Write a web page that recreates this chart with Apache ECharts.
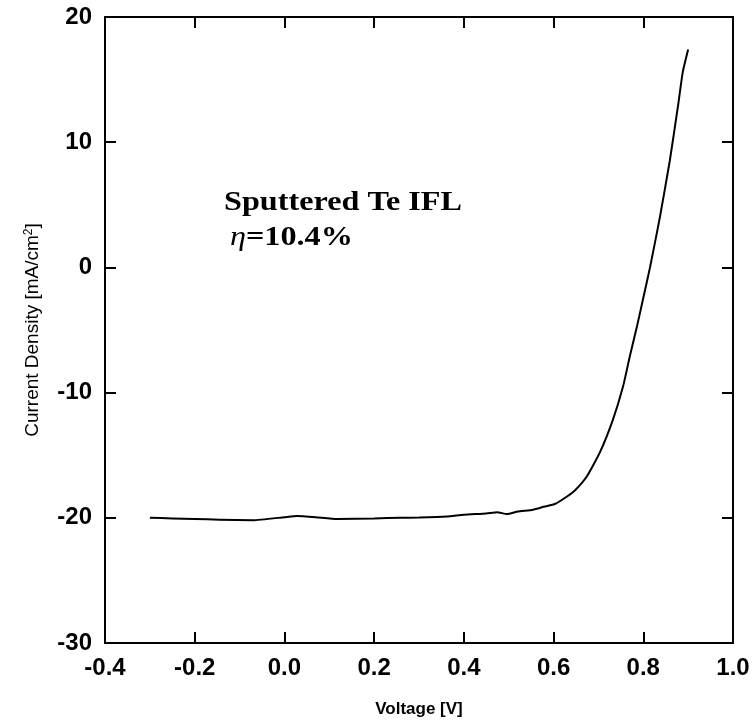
<!DOCTYPE html>
<html>
<head>
<meta charset="utf-8">
<script src="https://cdn.jsdelivr.net/npm/echarts@6/dist/echarts.min.js"></script>
<style>html,body{margin:0;padding:0;background:#fff;}#c{width:754px;height:728px;}</style>
</head>
<body>
<div id="c"></div>
<script>
var voltage = [-0.30, -0.25, -0.20, -0.144, -0.07, 0.0, 0.028, 0.07, 0.117, 0.2, 0.258, 0.30, 0.362, 0.40, 0.45, 0.474, 0.496, 0.52, 0.554, 0.58, 0.603, 0.63, 0.648, 0.674, 0.703, 0.732, 0.755, 0.770, 0.786, 0.799, 0.815, 0.837, 0.859, 0.877, 0.888, 0.900];
var current = [-20.0, -20.05, -20.1, -20.15, -20.2, -19.95, -19.85, -19.95, -20.1, -20.05, -20.0, -19.98, -19.9, -19.75, -19.65, -19.55, -19.7, -19.5, -19.35, -19.1, -18.9, -18.3, -17.8, -16.7, -14.8, -12.2, -9.5, -7.1, -4.7, -2.6, 0.0, 4.0, 8.5, 12.8, 15.6, 17.4];
var xTicks = ['-0.4', '-0.2', '0.0', '0.2', '0.4', '0.6', '0.8', '1.0'];
var yTicks = ['-30', '-20', '-10', '0', '10', '20'];
var annotationTitle = 'Sputtered Te IFL';
var annotationEff = '10.4%';

var data = voltage.map(function (v, i) { return [v, current[i]]; });
var chart = echarts.init(document.getElementById('c'), null, {renderer: 'canvas'});
var axisLine = {show: true, onZero: false, lineStyle: {color: '#000', width: 2}};
var tick = {show: true, inside: true, length: 11, lineStyle: {color: '#000', width: 2}};
var sans = 'Liberation Sans, Arial, sans-serif';
chart.setOption({
  animation: false,
  backgroundColor: '#fff',
  grid: {left: 105, right: 21, top: 17, bottom: 85},
  xAxis: [{
    type: 'value', min: -0.4, max: 1.0, interval: 0.2, position: 'bottom',
    axisLine: axisLine, axisTick: tick, splitLine: {show: false},
    axisLabel: {color: '#000', fontSize: 24, fontWeight: 'bold', fontFamily: sans, margin: 13,
      formatter: function (v) { var i = Math.round((v + 0.4) / 0.2); return xTicks[i]; }},
    name: 'Voltage [V]', nameLocation: 'middle', nameGap: 58,
    nameTextStyle: {color: '#000', fontSize: 17, fontWeight: 'bold', fontFamily: sans}
  }, {
    type: 'value', min: -0.4, max: 1.0, interval: 0.2, position: 'top',
    axisLine: axisLine, axisTick: tick, axisLabel: {show: false}, splitLine: {show: false}
  }],
  yAxis: [{
    type: 'value', min: -30, max: 20, interval: 10, position: 'left',
    axisLine: axisLine, axisTick: tick, splitLine: {show: false},
    axisLabel: {color: '#000', fontSize: 24, fontWeight: 'bold', fontFamily: sans, margin: 13,
      formatter: function (v) { var i = Math.round((v + 30) / 10); return yTicks[i]; }},
    name: 'Current Density [mA/cm{s|2}]', nameLocation: 'middle', nameGap: 62, nameRotate: 90,
    nameTextStyle: {color: '#000', fontSize: 19, fontFamily: sans,
      rich: {s: {fontSize: 12, verticalAlign: 'top', color: '#000', fontFamily: sans, padding: [0, 0, 8, 0]}}}
  }, {
    type: 'value', min: -30, max: 20, interval: 10, position: 'right',
    axisLine: axisLine, axisTick: tick, axisLabel: {show: false}, splitLine: {show: false}
  }],
  series: [{
    type: 'line', data: data, xAxisIndex: 0, yAxisIndex: 0,
    showSymbol: false, smooth: 0.15,
    lineStyle: {color: '#000', width: 2}
  }],
  graphic: [{
    type: 'text', left: 224, top: 189, scaleX: 1.15,
    style: {text: annotationTitle, fill: '#000', font: 'bold 28px "Liberation Serif", "Times New Roman", serif'}
  }, {
    type: 'text', left: 230, top: 224, scaleX: 1.15,
    style: {
      text: '{e|η}{b|=' + annotationEff + '}',
      rich: {
        e: {font: 'italic 28px "Liberation Serif", serif', fill: '#000'},
        b: {font: 'bold 28px "Liberation Serif", serif', fill: '#000'}
      }
    }
  }]
});
</script>
</body>
</html>
